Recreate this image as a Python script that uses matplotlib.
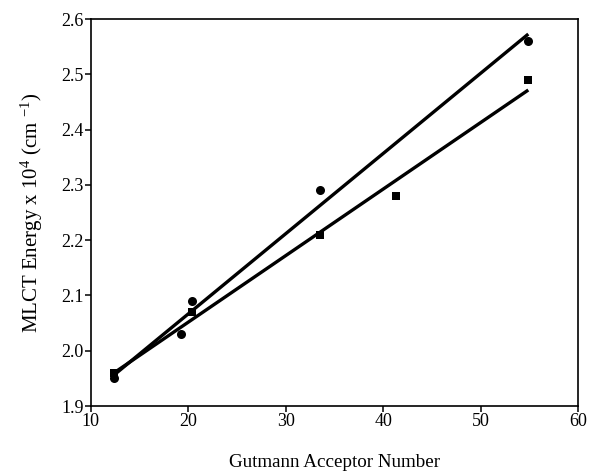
import numpy as np
import matplotlib
matplotlib.use("Agg")
import matplotlib.pyplot as plt

plt.rcParams['font.family'] = ['Liberation Serif', 'DejaVu Serif']
plt.rcParams['mathtext.fontset'] = 'custom'
plt.rcParams['mathtext.rm'] = 'Liberation Serif'
plt.rcParams['mathtext.it'] = 'Liberation Serif:italic'

# circles series
circ_x = [12.4, 19.3, 20.4, 33.5, 54.9]
circ_y = [1.95, 2.03, 2.09, 2.29, 2.56]

# squares series
sq_x = [12.4, 20.4, 33.5, 41.3, 54.9]
sq_y = [1.96, 2.07, 2.21, 2.28, 2.49]

xticks = [10, 20, 30, 40, 50, 60]
yticks = [1.9, 2.0, 2.1, 2.2, 2.3, 2.4, 2.5, 2.6]

fig = plt.figure(figsize=(5.91, 4.73), dpi=100)
ax = fig.add_axes([0.1535, 0.1416, 0.8245, 0.8182])

# least squares lines through each series
for xs, ys in [(circ_x, circ_y), (sq_x, sq_y)]:
    m, b = np.polyfit(xs, ys, 1)
    xx = np.array([min(xs), max(xs)])
    ax.plot(xx, m * xx + b, color='black', lw=2.4, solid_capstyle='butt')

ax.plot(circ_x, circ_y, 'o', color='black', ms=6.5, mew=0)
ax.plot(sq_x, sq_y, 's', color='black', ms=6, mew=0)

ax.set_xlim(10, 60)
ax.set_ylim(1.9, 2.6)
ax.set_xticks(xticks)
ax.set_yticks(yticks)
ax.set_yticklabels(['%.1f' % v for v in yticks])
ax.tick_params(direction='out', length=4, width=1.1, pad=1, labelsize=13)
for s in ax.spines.values():
    s.set_linewidth(1.2)

ax.set_xlabel('Gutmann Acceptor Number', fontsize=13.7, labelpad=17)
ax.set_ylabel(r'MLCT Energy x 10$^4$ (cm $^{-1}$)', fontsize=15, labelpad=12)

fig.savefig('out.png', dpi=100)
